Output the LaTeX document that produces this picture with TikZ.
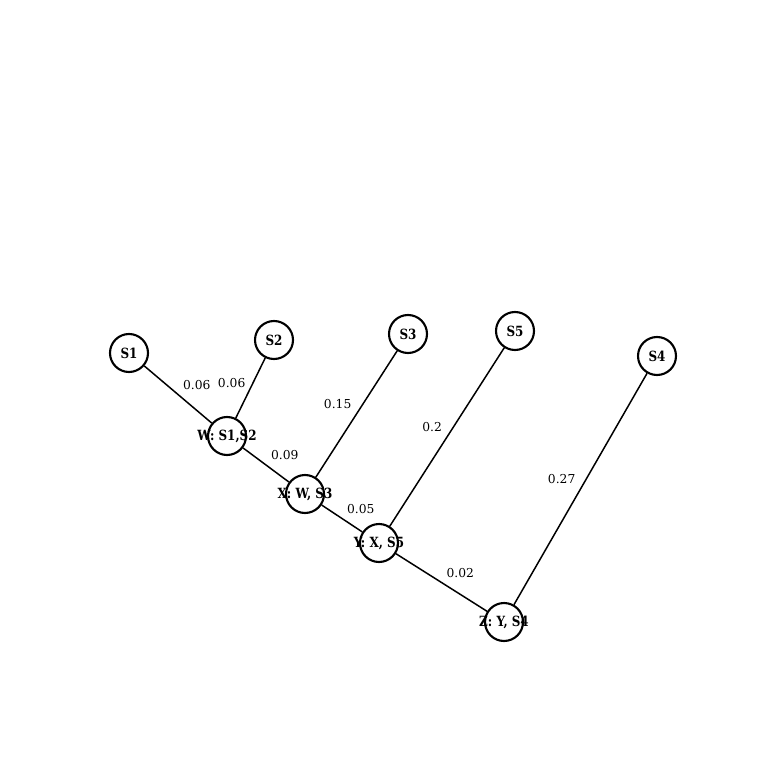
\documentclass[tikz,border=0pt]{standalone}
\usepackage{fontspec}
\setmainfont{DejaVu Serif}
\newfontfamily\nodefont{DejaVu Serif}[FakeStretch=0.85]
\usepackage{tikz}
\usetikzlibrary{positioning}

\begin{document}
\begin{tikzpicture}[
  x=0.02cm, y=-0.02cm,
  tnode/.style={circle, draw=black, line width=1.2pt, fill=white, minimum size=0.76cm, inner sep=0pt},
  nlabel/.style={font=\nodefont\bfseries\fontsize{8}{9}\selectfont, inner sep=0pt},
  edge/.style={draw, line width=0.85pt},
  wlabel/.style={font=\fontsize{7}{8}\selectfont, inner sep=2.5pt}
]
  \useasboundingbox (0,0) rectangle (766,766);

  % leaves
  \node [tnode, label={[nlabel]center:S1}] (s1) at (129,353) {};
  \node [tnode, label={[nlabel]center:S2}] (s2) at (274,340) {};
  \node [tnode, label={[nlabel]center:S3}] (s3) at (408,334) {};
  \node [tnode, label={[nlabel]center:S5}] (s5) at (515,331) {};
  \node [tnode, label={[nlabel]center:S4}] (s4) at (657,356) {};

  % merges
  \node [tnode, label={[nlabel]center:{W: S1,S2}}] (w) at (227,436) {};
  \node [tnode, label={[nlabel]center:{X: W, S3}}] (x) at (305,494) {};
  \node [tnode, label={[nlabel]center:{Y: X, S5}}] (y) at (379,543) {};
  \node [tnode, label={[nlabel]center:{Z: Y, S4}}] (z) at (504,622) {};

  \draw [edge] (s1) -- node[wlabel, above right]{0.06} (w);
  \draw [edge] (s2) -- node[wlabel, left, yshift=3pt]{0.06} (w);
  \draw [edge] (w) -- node[wlabel, above right]{0.09} (x);
  \draw [edge] (s3) -- node[wlabel, above left]{0.15} (x);
  \draw [edge] (x) -- node[wlabel, above right]{0.05} (y);
  \draw [edge] (s5) -- node[wlabel, above left]{0.2} (y);
  \draw [edge] (y) -- node[wlabel, above right]{0.02} (z);
  \draw [edge] (s4) -- node[wlabel, above left]{0.27} (z);
\end{tikzpicture}
\end{document}
